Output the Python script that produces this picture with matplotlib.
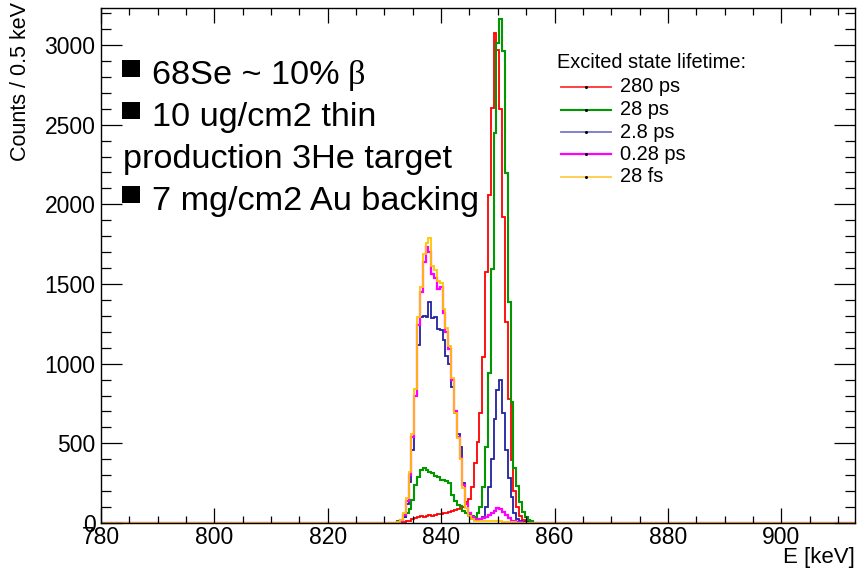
import numpy as np
import matplotlib
matplotlib.use("Agg")
import matplotlib.pyplot as plt
from matplotlib.ticker import MultipleLocator
from matplotlib.lines import Line2D
from matplotlib.patches import Rectangle

# histogram: 0.5 keV bins, counts given from 832.25 keV upwards (zero elsewhere)
E_MIN, E_MAX, BIN = 780.0, 913.0, 0.5
EDGE0 = 779.75
WIN_START = 832.25

red_280ps = [5, 5, 5, 10, 15, 25, 30, 35, 45, 40, 45, 50, 45, 50, 55, 55,
             60, 65, 70, 75, 80, 85, 95, 100, 130, 150, 228, 376, 510, 690,
             1044, 1578, 2059, 2605, 3078, 2969, 2600, 1923, 1264, 780, 395,
             200, 100, 45, 20, 10, 5, 5]
green_28ps = [10, 20, 35, 60, 90, 144, 238, 290, 330, 343, 335, 320, 314, 295,
              286, 270, 268, 262, 250, 176, 136, 115, 105, 74, 60, 53, 45, 40,
              60, 102, 228, 479, 941, 1597, 2446, 3013, 3162, 2960, 2197, 1389,
              761, 345, 230, 130, 70, 35, 20, 10]
blue_2p8ps = [5, 15, 40, 120, 260, 460, 800, 1120, 1290, 1300, 1290, 1390,
              1285, 1290, 1215, 1210, 1150, 1045, 1000, 855, 690, 560, 480,
              250, 120, 45, 25, 20, 20, 25, 40, 102, 226, 400, 650, 835, 897,
              690, 458, 282, 165, 60, 25, 10, 5, 5, 0, 0]
magenta_0p28ps = [5, 15, 50, 140, 300, 540, 800, 1240, 1450, 1640, 1730, 1700,
                  1560, 1540, 1470, 1480, 1320, 1200, 1090, 900, 700, 540, 410,
                  240, 120, 60, 35, 25, 20, 25, 30, 40, 50, 60, 75, 95, 90, 70,
                  50, 30, 15, 10, 5, 5, 0, 0, 0, 0]
yellow_28fs = [5, 20, 60, 160, 320, 560, 840, 1290, 1480, 1690, 1760, 1790,
               1610, 1590, 1520, 1505, 1340, 1225, 1110, 910, 690, 535, 400,
               220, 95, 45, 25, 15, 10, 10, 10, 10, 10, 10, 10, 10, 10, 5, 5,
               5, 5, 5, 0, 0, 0, 0, 0, 0]

labels = ["280 ps", "28 ps", "2.8 ps", "0.28 ps", "28 fs"]
series = [red_280ps, green_28ps, blue_2p8ps, magenta_0p28ps, yellow_28fs]
colors = ["#FF0000", "#009900", "#2222A0", "#FF00FF", "#FFC400"]
legend_colors = ["#FF3333", "#009900", "#7777CC", "#FF00FF", "#FFCC44"]
widths = [1.3, 1.5, 1.3, 1.6, 1.3]

bullets = ["68Se ~ 10%", "10 ug/cm2 thin", "production 3He target", "7 mg/cm2 Au backing"]

W, H = 857, 571


def fx(px):
    return px / W


def fy(py):
    return 1 - py / H


edges = np.arange(EDGE0, E_MAX + BIN, BIN)
i0 = int(round((WIN_START - EDGE0) / BIN))

fig = plt.figure(figsize=(W / 100, H / 100), dpi=100)
ax = fig.add_axes([fx(101), fy(523), (855 - 101) / W, (523 - 8) / H])

for vals, c, lw in zip(series, colors, widths):
    counts = np.zeros(len(edges) - 1)
    counts[i0:i0 + len(vals)] = vals
    ax.stairs(counts, edges, color=c, linewidth=lw)

ax.set_xlim(E_MIN, E_MAX)
ax.set_ylim(0, 3232)
ax.xaxis.set_major_locator(MultipleLocator(20))
ax.xaxis.set_minor_locator(MultipleLocator(5))
ax.yaxis.set_major_locator(MultipleLocator(500))
ax.yaxis.set_minor_locator(MultipleLocator(100))
ax.tick_params(which="both", direction="in", top=True, right=True, width=0.9,
               labelsize=16.5)
ax.tick_params(axis="x", which="major", length=10.5, pad=2)
ax.tick_params(axis="x", which="minor", length=5.2)
ax.tick_params(axis="y", which="major", length=15, pad=4)
ax.tick_params(axis="y", which="minor", length=7.5)
for lab in ax.get_xticklabels() + ax.get_yticklabels():
    lab.set_family("Liberation Sans")
for sp in ax.spines.values():
    sp.set_linewidth(1.0)

fig.text(fx(855), fy(563), "E [keV]", ha="right", va="baseline",
         fontsize=16, family="Liberation Sans")
fig.text(fx(31), fy(161), "Counts / 0.5 keV", rotation=90, ha="right",
         va="bottom", fontsize=15.5, family="Liberation Sans")

# text overlay with square bullets
baselines = [84, 126, 168, 210]
for i, (txt, yb) in enumerate(zip(bullets, baselines)):
    x0 = 123 if i == 2 else 152
    fig.text(fx(x0), fy(yb), txt, ha="left", va="baseline",
             fontsize=24.7, family="Liberation Sans")
    if i != 2:
        fig.add_artist(Rectangle((fx(122), fy(yb - 7)), 18 / W, 17 / H,
                                 transform=fig.transFigure, facecolor="black",
                                 edgecolor="none"))
fig.text(fx(348), fy(84), "β", ha="left", va="baseline",
         fontsize=24.7, family="Liberation Serif")

# legend
fig.text(fx(557), fy(63), "Excited state lifetime:", ha="left", va="center",
         fontsize=14.4, family="Liberation Sans")
for j, (lab, c, lw) in enumerate(zip(labels, legend_colors, widths)):
    yy = fy(87 + 22.5 * j)
    fig.add_artist(Line2D([fx(561), fx(611)], [yy, yy], color=c, linewidth=lw,
                          transform=fig.transFigure))
    fig.add_artist(Line2D([fx(586)], [yy], marker="o", markersize=1.2,
                          color="black", linestyle="none",
                          transform=fig.transFigure))
    fig.text(fx(620), yy, lab, ha="left", va="center", fontsize=14.4,
             family="Liberation Sans")

fig.savefig("out.png", dpi=100)
